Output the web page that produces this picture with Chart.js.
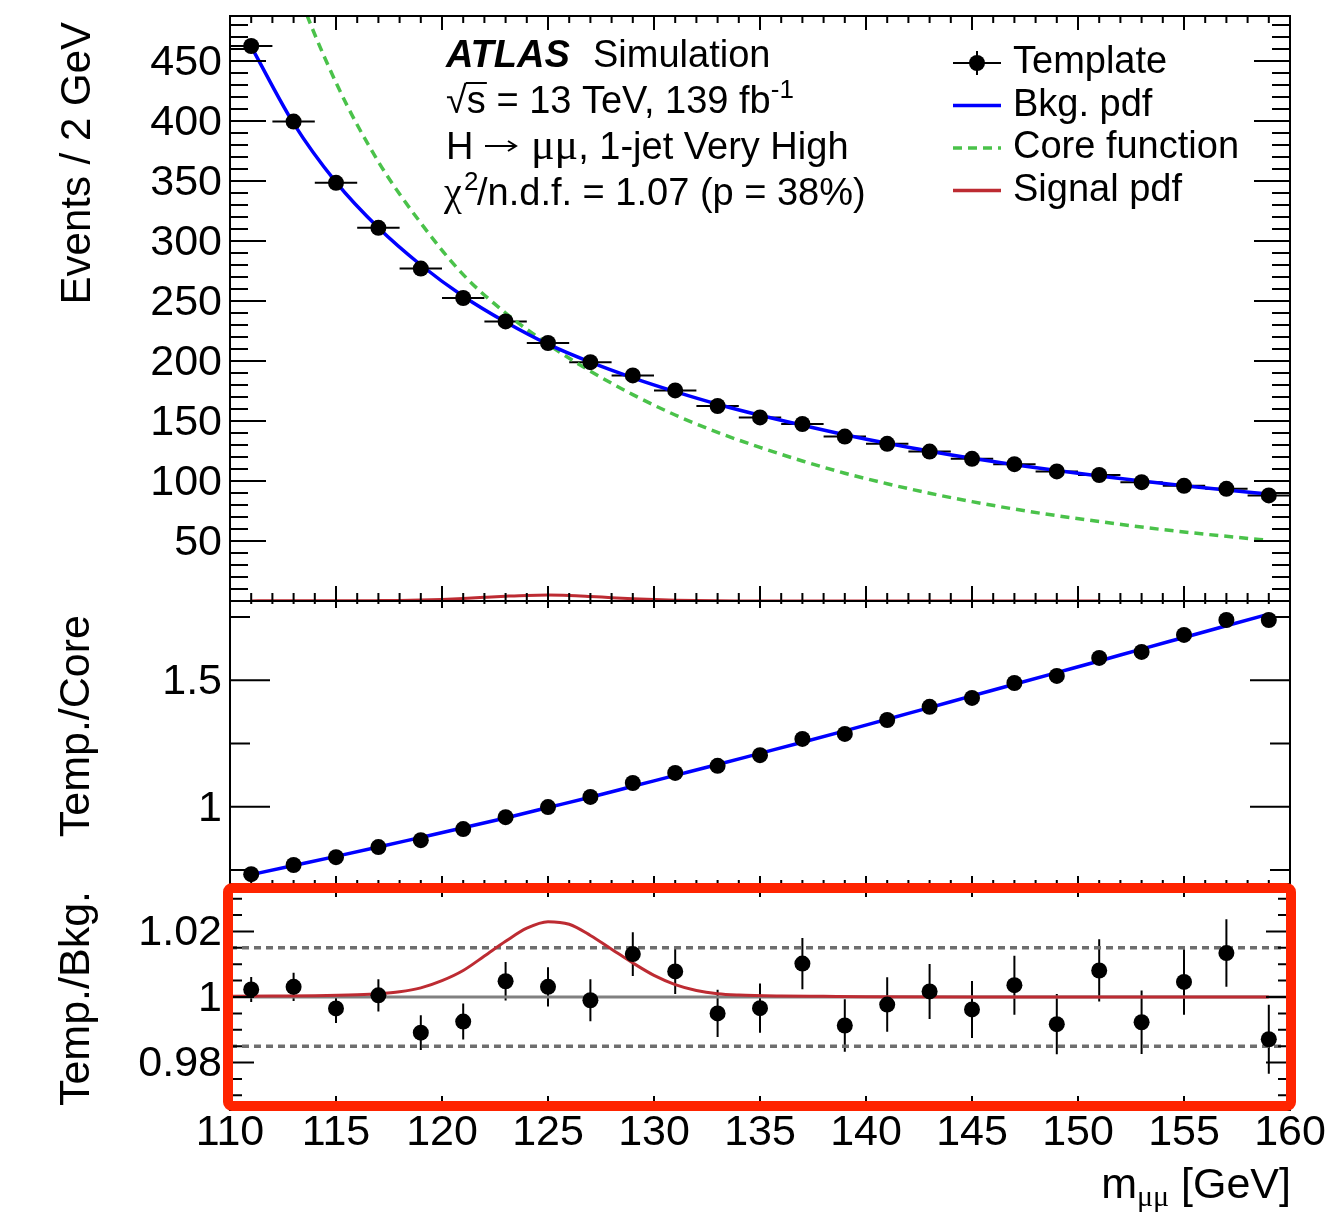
<!DOCTYPE html>
<html>
<head>
<meta charset="utf-8">
<script src="https://cdn.jsdelivr.net/npm/chart.js@4.4.1/dist/chart.umd.min.js"></script>
<style>
  body { margin: 0; background: #fff; }
  #wrap { position: relative; width: 1331px; height: 1213px; }
  #wrap canvas { position: absolute; left: 0; top: 0; }
</style>
</head>
<body>
<div id="wrap">
  <canvas id="eventsPanel" width="1331" height="1213"></canvas>
  <canvas id="corePanel" width="1331" height="1213"></canvas>
  <canvas id="bkgPanel" width="1331" height="1213"></canvas>
</div>
<script>
// --- values ---
const binCenters = [111, 113, 115, 117, 119, 121, 123, 125, 127, 129, 131, 133, 135,
                    137, 139, 141, 143, 145, 147, 149, 151, 153, 155, 157, 159];
const binHalfWidth = 1;

// top panel: Events / 2 GeV
const templateEvents = [462.5, 399.5, 348.5, 311, 277, 252.5, 233, 215, 199, 188, 175.5, 162.5, 153,
                        147.5, 137, 131, 124.5, 118.5, 114, 108, 105, 99, 96, 93.5, 88];
const bkgPdf = [462, 398, 349, 311, 280, 254, 232.5, 214, 199, 186, 174.5, 164, 154.8,
                146.5, 138.6, 131.4, 124.8, 118.9, 113.6, 108.7, 104.2, 100, 96.1, 92.5, 89.1];
const coreFunction = [631, 518, 432, 366, 315, 272, 240, 214, 191.5, 172, 155, 140.5, 128,
                      116.7, 106.5, 97.7, 89.8, 82.8, 76.6, 71.1, 66.2, 61.6, 57.5, 53.9, 50.5];
const signalX = [111, 112, 114, 116, 117, 118, 119, 120, 121, 122, 123, 124, 125, 126, 127,
                 128, 129, 130, 131, 132, 133, 134, 136, 138, 140, 145, 151];
const signalEvents = [0.1, 0.13, 0.15, 0.23, 0.31, 0.47, 0.78, 1.33, 2.06, 3.04, 3.95, 4.68, 4.92, 4.57, 3.74,
                      2.8, 1.93, 1.19, 0.66, 0.34, 0.17, 0.1, 0.05, 0.03, 0.014, 0.005, 0.002];

// middle panel: Temp./Core
const templateOverCore = [0.734, 0.770, 0.801, 0.841, 0.868, 0.912, 0.959, 0.999, 1.039, 1.094, 1.134, 1.162, 1.204,
                          1.268, 1.288, 1.343, 1.395, 1.430, 1.489, 1.517, 1.588, 1.612, 1.679, 1.738, 1.738];
const bkgOverCore = [0.732, 0.768, 0.804, 0.841, 0.879, 0.917, 0.956, 0.997, 1.038, 1.081, 1.124, 1.167, 1.211,
                     1.255, 1.300, 1.346, 1.392, 1.438, 1.484, 1.530, 1.576, 1.623, 1.669, 1.715, 1.761];

// bottom panel: Temp./Bkg.
const templateOverBkg = [1.0023, 1.0031, 0.9965, 1.0005, 0.9891, 0.9925, 1.0048, 1.0031, 0.9990, 1.0131, 1.0078, 0.9950, 0.9966,
                         1.0102, 0.9913, 0.9977, 1.0017, 0.9962, 1.0036, 0.9917, 1.0081, 0.9923, 1.0046, 1.0134, 0.9871];
const templateOverBkgErr = [0.0038, 0.0043, 0.0044, 0.0049, 0.0053, 0.0055, 0.0059, 0.0060, 0.0064, 0.0067, 0.0069, 0.0072, 0.0075,
                            0.0078, 0.0080, 0.0083, 0.0084, 0.0087, 0.0090, 0.0092, 0.0095, 0.0097, 0.0100, 0.0103, 0.0105];
const sigPlusBkgX = [110, 112, 114, 116, 117, 118, 119, 120, 121, 122, 123, 124, 125, 126, 127,
                     128, 129, 130, 131, 132, 133, 134, 136, 138, 140, 145, 150, 155, 159];
const sigPlusBkgOverBkg = [1.0002, 1.0003, 1.0004, 1.0007, 1.0010, 1.0016, 1.0028, 1.0050, 1.0081, 1.0125, 1.0170, 1.0210, 1.0230, 1.0222, 1.0188,
                           1.0146, 1.0104, 1.0066, 1.0038, 1.0020, 1.0010, 1.0006, 1.0003, 1.0002, 1.0001, 1.0, 1.0, 1.0, 1.0];
const refLineX = [110, 160];
const unityLine = [1, 1];
const bandUpper = [1.015, 1.015];
const bandLower = [0.985, 0.985];

// tick labels
const xTicks = [110, 115, 120, 125, 130, 135, 140, 145, 150, 155, 160];
const yTicksEvents = [50, 100, 150, 200, 250, 300, 350, 400, 450];
const yTicksCore = [1, 1.5];
const yTicksBkg = [0.98, 1, 1.02];

const legendLabels = ['Template', 'Bkg. pdf', 'Core function', 'Signal pdf'];

// --- styling ---
const W = 1331, H = 1213;
const FRAME_L = 230, FRAME_R = 1290;
const SANS = "'Liberation Sans', Arial, Helvetica, sans-serif";
const SERIF = "'Liberation Serif', 'Times New Roman', serif";
const BLUE = '#0000ff', GREEN = '#4ac24a', RED = '#bd2b32';
const TICK_FONT = 43;

Chart.defaults.font.family = SANS;
Chart.defaults.color = '#000';

const pts = (xs, ys) => xs.map((x, i) => ({ x, y: ys[i] }));

function markers(data) {
  return { data, showLine: false, pointRadius: 8, pointBackgroundColor: '#000',
           pointBorderColor: '#000', pointBorderWidth: 0, borderColor: '#000' };
}
function curve(data, color, width, dash) {
  return { data, borderColor: color, borderWidth: width, borderDash: dash || [],
           pointRadius: 0, cubicInterpolationMode: 'monotone' };
}

function richText(ctx, x, y, parts) {
  let cx = x;
  for (const [t, font, dy] of parts) {
    ctx.font = font;
    ctx.fillText(t, cx, y + (dy || 0));
    cx += ctx.measureText(t).width;
  }
  return cx;
}

function yTitle(ctx, text, x, yEnd, size) {
  ctx.save();
  ctx.translate(x, yEnd);
  ctx.rotate(-Math.PI / 2);
  ctx.textAlign = 'right';
  ctx.textBaseline = 'alphabetic';
  ctx.font = `${size || 42}px ${SANS}`;
  ctx.fillStyle = '#000';
  ctx.fillText(text, 0, 0);
  ctx.restore();
}

function drawErrorBars(chart, eb) {
  const { ctx, scales: { x, y } } = chart;
  ctx.save();
  ctx.strokeStyle = '#000';
  ctx.lineWidth = 2;
  ctx.beginPath();
  eb.xs.forEach((xv, i) => {
    const yv = eb.ys[i];
    const px = x.getPixelForValue(xv), py = y.getPixelForValue(yv);
    if (eb.xErr) {
      ctx.moveTo(x.getPixelForValue(xv - eb.xErr), py);
      ctx.lineTo(x.getPixelForValue(xv + eb.xErr), py);
    }
    if (eb.yErr) {
      ctx.moveTo(px, y.getPixelForValue(yv - eb.yErr[i]));
      ctx.lineTo(px, y.getPixelForValue(yv + eb.yErr[i]));
    }
  });
  ctx.stroke();
  ctx.restore();
}

// ROOT-like frame with inward ticks on all four sides
function drawFrame(chart, t) {
  const { ctx, chartArea: a, scales: { x, y } } = chart;
  ctx.save();
  ctx.strokeStyle = '#000';
  ctx.lineWidth = 2;
  ctx.beginPath();
  for (let v = Math.ceil(x.min); v <= x.max; v++) {
    const px = x.getPixelForValue(v);
    const major = v % 5 === 0;
    ctx.moveTo(px, a.bottom); ctx.lineTo(px, a.bottom - (major ? t.xBottom[0] : t.xBottom[1]));
    ctx.moveTo(px, a.top); ctx.lineTo(px, a.top + (major ? t.xTop[0] : t.xTop[1]));
  }
  const k0 = Math.ceil(y.min / t.yMinor - 1e-6), k1 = Math.floor(y.max / t.yMinor + 1e-6);
  for (let k = k0; k <= k1; k++) {
    const v = k * t.yMinor;
    const r = v / t.yMajor;
    const len = Math.abs(r - Math.round(r)) < 1e-6 ? t.y[0] : t.y[1];
    const py = y.getPixelForValue(v);
    ctx.moveTo(a.left, py); ctx.lineTo(a.left + len, py);
    ctx.moveTo(a.right, py); ctx.lineTo(a.right - len, py);
  }
  ctx.stroke();
  ctx.strokeRect(a.left, a.top, a.right - a.left, a.bottom - a.top);
  ctx.restore();
}

function rootStyle(p) {
  return {
    id: 'rootStyle',
    beforeDatasetsDraw(chart) { if (p.errorBars) drawErrorBars(chart, p.errorBars); },
    afterDatasetsDraw(chart) { drawFrame(chart, p.ticks); },
    afterDraw(chart) { if (p.decorate) p.decorate(chart); }
  };
}

function makePanel(p) {
  const xH = p.showX ? H - p.bottom : 0;
  return new Chart(document.getElementById(p.id), {
    type: 'line',
    data: { datasets: p.datasets },
    options: {
      responsive: false,
      animation: false,
      devicePixelRatio: 1,
      events: [],
      layout: { padding: { left: 0, right: W - FRAME_R, top: p.top, bottom: H - p.bottom - xH } },
      plugins: { legend: { display: false }, tooltip: { enabled: false } },
      scales: {
        x: {
          type: 'linear', min: 110, max: 160, display: p.showX,
          grid: { display: false, drawTicks: false }, border: { display: false },
          afterBuildTicks: s => { s.ticks = xTicks.map(v => ({ value: v })); },
          afterFit: s => { s.height = xH; s.paddingLeft = 0; s.paddingRight = 0; },
          ticks: { font: { size: TICK_FONT }, padding: -3, autoSkip: false, maxRotation: 0 }
        },
        y: {
          type: 'linear', min: p.yMin, max: p.yMax,
          grid: { display: false, drawTicks: false }, border: { display: false },
          afterBuildTicks: s => { s.ticks = p.yTicks.map(v => ({ value: v })); },
          afterFit: s => { s.width = FRAME_L; s.paddingTop = 0; s.paddingBottom = 0; },
          ticks: { font: { size: TICK_FONT }, padding: 8, labelOffset: 2, autoSkip: false,
                   callback: v => String(+v.toFixed(3)) }
        }
      }
    },
    plugins: [rootStyle(p)]
  });
}

// --- 1. Events / 2 GeV ---
makePanel({
  id: 'eventsPanel', top: 16, bottom: 601, yMin: 0, yMax: 487.5, yTicks: yTicksEvents,
  ticks: { xTop: [14, 7], xBottom: [15, 8], y: [36, 18], yMinor: 10, yMajor: 50 },
  datasets: [
    markers(pts(binCenters, templateEvents)),
    curve(pts(binCenters, bkgPdf), BLUE, 3.5),
    curve(pts(binCenters, coreFunction), GREEN, 3.5, [9, 6]),
    curve(pts(signalX, signalEvents), RED, 3)
  ],
  errorBars: { xs: binCenters, ys: templateEvents, xErr: binHalfWidth },
  decorate(chart) {
    const ctx = chart.ctx;
    const f38 = `38px ${SANS}`, f26 = `26px ${SANS}`;
    ctx.save();
    ctx.fillStyle = '#000';
    ctx.strokeStyle = '#000';
    ctx.textAlign = 'left';
    ctx.textBaseline = 'alphabetic';

    richText(ctx, 446, 67, [['ATLAS', `italic bold 38px ${SANS}`]]);
    richText(ctx, 593, 67, [['Simulation', f38]]);

    // sqrt(s) with an overbar, then the rest of the line
    ctx.font = f38;
    const rootEnd = richText(ctx, 446, 113, [['\u221A', f38]]);
    const sEnd = richText(ctx, rootEnd, 113, [['s', f38]]);
    ctx.lineWidth = 2;
    ctx.beginPath(); ctx.moveTo(rootEnd - 1, 83); ctx.lineTo(sEnd + 1, 83); ctx.stroke();
    richText(ctx, sEnd, 113, [[' = 13 TeV, 139 fb', f38], ['-1', f26, -15]]);

    // H -> mu mu
    richText(ctx, 446, 159, [['H', f38]]);
    ctx.lineWidth = 2;
    ctx.beginPath();
    ctx.moveTo(485, 146); ctx.lineTo(516, 146);
    ctx.moveTo(508, 141); ctx.lineTo(516, 146); ctx.lineTo(508, 151);
    ctx.stroke();
    richText(ctx, 531, 159, [['\u03bc\u03bc', `44px ${SERIF}`], [', 1-jet Very High', f38]]);

    richText(ctx, 444, 205, [['\u03c7', `40px ${SERIF}`]]);
    richText(ctx, 464, 205, [['2', f26, -15]]);
    richText(ctx, 477, 205, [['/n.d.f. = 1.07 (p = 38%)', f38]]);

    // legend
    const lx0 = 953, lx1 = 1001, tx = 1013, ly0 = 63, dy = 42.5;
    const styles = [null, [BLUE, []], [GREEN, [9, 6]], [RED, []]];
    legendLabels.forEach((label, i) => {
      const yy = ly0 + i * dy;
      ctx.beginPath();
      if (i === 0) {
        ctx.strokeStyle = '#000'; ctx.lineWidth = 2; ctx.setLineDash([]);
        ctx.moveTo(lx0, yy); ctx.lineTo(lx1, yy);
        ctx.moveTo((lx0 + lx1) / 2, yy - 12); ctx.lineTo((lx0 + lx1) / 2, yy + 12);
        ctx.stroke();
        ctx.beginPath(); ctx.fillStyle = '#000';
        ctx.arc((lx0 + lx1) / 2, yy, 8, 0, Math.PI * 2); ctx.fill();
      } else {
        ctx.strokeStyle = styles[i][0]; ctx.lineWidth = 3.5; ctx.setLineDash(styles[i][1]);
        ctx.moveTo(lx0, yy); ctx.lineTo(lx1, yy); ctx.stroke();
        ctx.setLineDash([]);
      }
      ctx.fillStyle = '#000';
      ctx.font = f38;
      ctx.fillText(label, tx, yy + 10);
    });
    ctx.restore();
    yTitle(ctx, 'Events / 2 GeV', 90, 22);
  }
});

// --- 2. Temp./Core ---
makePanel({
  id: 'corePanel', top: 601, bottom: 884, yMin: 0.695, yMax: 1.813, yTicks: yTicksCore,
  ticks: { xTop: [7, 3], xBottom: [8, 4], y: [40, 20], yMinor: 0.25, yMajor: 0.5 },
  datasets: [
    markers(pts(binCenters, templateOverCore)),
    curve(pts(binCenters, bkgOverCore), BLUE, 3.5)
  ],
  decorate(chart) { yTitle(chart.ctx, 'Temp./Core', 89, 615, 43); }
});

// --- 3. Temp./Bkg. ---
makePanel({
  id: 'bkgPanel', top: 884, bottom: 1110, yMin: 0.9655, yMax: 1.0345, yTicks: yTicksBkg, showX: true,
  ticks: { xTop: [13, 6], xBottom: [14, 7], y: [24, 12], yMinor: 0.005, yMajor: 0.02 },
  datasets: [
    markers(pts(binCenters, templateOverBkg)),
    curve(pts(sigPlusBkgX, sigPlusBkgOverBkg), RED, 3),
    curve(pts(refLineX, unityLine), '#808080', 3),
    curve(pts(refLineX, bandUpper), '#6e6e6e', 3.5, [7, 5]),
    curve(pts(refLineX, bandLower), '#6e6e6e', 3.5, [7, 5])
  ],
  errorBars: { xs: binCenters, ys: templateOverBkg, yErr: templateOverBkgErr },
  decorate(chart) {
    const ctx = chart.ctx, a = chart.chartArea;
    yTitle(ctx, 'Temp./Bkg.', 89, 891, 43);

    // x-axis title, right aligned at the frame edge
    ctx.save();
    ctx.fillStyle = '#000';
    ctx.textBaseline = 'alphabetic';
    const parts = [['m', `43px ${SANS}`, 0], ['\u03bc\u03bc', `30px ${SERIF}`, 8], [' [GeV]', `43px ${SANS}`, 0]];
    let total = 0;
    parts.forEach(([t, f]) => { ctx.font = f; total += ctx.measureText(t).width; });
    richText(ctx, a.right + 1 - total, 1198, parts);

    // red highlight box round the lower panel
    ctx.strokeStyle = 'rgb(255,36,0)';
    ctx.lineWidth = 10;
    ctx.lineJoin = 'round';
    ctx.beginPath();
    ctx.roundRect(a.left - 2, a.top + 4, a.right - a.left + 3, a.bottom - a.top - 8, 4);
    ctx.stroke();
    ctx.restore();
  }
});
</script>
</body>
</html>
